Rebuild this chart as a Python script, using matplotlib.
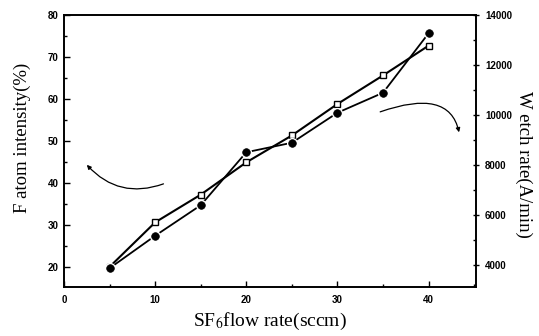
import matplotlib
matplotlib.use("Agg")
import matplotlib.pyplot as plt
from matplotlib.ticker import MultipleLocator

flow = [5, 10, 15, 20, 25, 30, 35, 40]
f_atom = [20.0, 30.6, 37.2, 44.9, 51.3, 58.8, 65.6, 72.7]
w_etch = [3870, 5170, 6390, 8510, 8890, 10090, 10890, 13270]

x_ticks = [0, 10, 20, 30, 40]
left_ticks = [20, 30, 40, 50, 60, 70, 80]
right_ticks = [4000, 6000, 8000, 10000, 12000, 14000]

plt.rcParams['mathtext.fontset'] = 'stix'
serif = 'Liberation Serif'
tickfont = dict(family='Liberation Sans', weight='bold', size=7)

fig = plt.figure(figsize=(5.39, 3.36), dpi=100)
ax = fig.add_axes([64/539, 1-287/336, (476-64)/539, (287-15)/336])
ax2 = ax.twinx()

ax.plot(flow, f_atom, color='black', lw=1.5, marker='s', ms=4.5,
        mfc='white', mec='black', mew=1.0, zorder=3)
ax2.plot(flow, w_etch, color='black', lw=1.3, zorder=2)
ax2.plot(flow, w_etch, ls='none', marker='o', ms=5.5, mfc='black',
         mec='white', mew=2.5, zorder=3)
ax2.plot(flow, w_etch, ls='none', marker='o', ms=5.5, mfc='black',
         mec='black', mew=0.5, zorder=4)

ax.set_xlim(0, 45.2)
ax.set_ylim(15.2, 80)
ax2.set_ylim(3120, 14000)

ax.set_xticks(x_ticks)
ax.xaxis.set_minor_locator(MultipleLocator(5))
ax.set_yticks(left_ticks)
ax.yaxis.set_minor_locator(MultipleLocator(5))
ax2.set_yticks(right_ticks)
ax2.yaxis.set_minor_locator(MultipleLocator(1000))

ax.tick_params(axis='both', which='major', direction='in', length=4, width=1, pad=4)
ax.tick_params(axis='both', which='minor', direction='in', length=2.5, width=1)
ax.tick_params(axis='x', pad=6)
ax2.tick_params(axis='y', which='major', direction='inout', length=5, width=1, pad=4)
ax2.tick_params(axis='y', which='minor', direction='in', length=2, width=1)

for lab in ax.get_xticklabels() + ax.get_yticklabels() + ax2.get_yticklabels():
    lab.set_fontfamily(tickfont['family'])
    lab.set_fontweight(tickfont['weight'])
    lab.set_fontsize(tickfont['size'])

for a in (ax, ax2):
    for s in a.spines.values():
        s.set_linewidth(1.2)

ax.set_xlabel('SF$_6$flow rate(sccm)', fontfamily=serif, fontsize=14, labelpad=4)
ax.set_ylabel('F atom intensity(%)', fontfamily=serif, fontsize=13.5,
              va='center')
ax.yaxis.set_label_coords(-0.102, 0.548)
ax2.set_ylabel('W etch rate(A/min)', fontfamily=serif, fontsize=13.5,
               rotation=-90, va='center')
ax2.yaxis.set_label_coords(1.115, 0.452)

ax.annotate('', xy=(2.3, 44.8), xytext=(11.2, 40.0),
            arrowprops=dict(arrowstyle='-|>', color='black', lw=0.9,
                            mutation_scale=6,
                            connectionstyle='arc3,rad=-0.35'))
ax.annotate('', xy=(43.4, 51.4), xytext=(34.4, 56.7),
            arrowprops=dict(arrowstyle='-|>', color='black', lw=0.9,
                            mutation_scale=6,
                            connectionstyle='angle3,angleA=20,angleB=100'))

fig.savefig('out.png', dpi=100)
